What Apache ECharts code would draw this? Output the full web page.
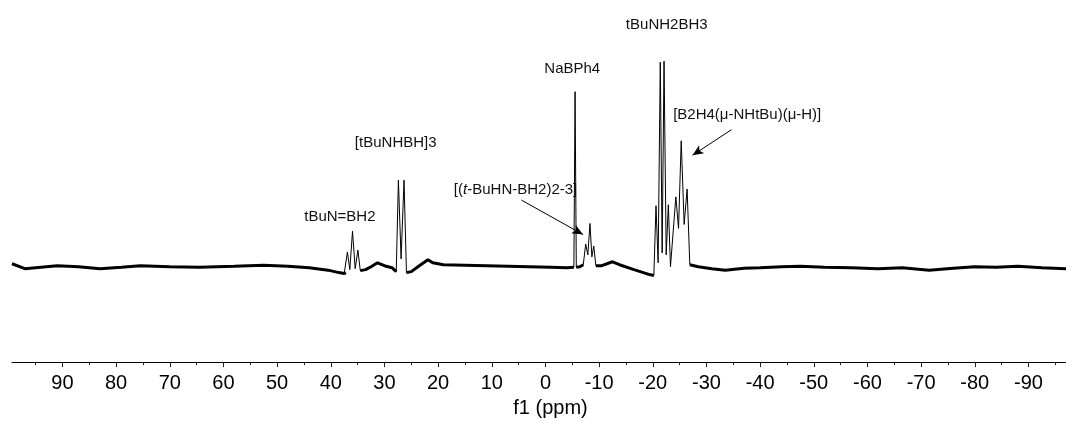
<!DOCTYPE html>
<html>
<head>
<meta charset="utf-8">
<script src="https://cdn.jsdelivr.net/npm/echarts@6/dist/echarts.min.js"></script>
<style>
html,body{margin:0;padding:0;background:#fff;}
#chart{width:1066px;height:423px;}
</style>
</head>
<body>
<div id="chart"></div>
<script>
// chemical shift (ppm), descending
const ppm = [
  99.4, 97.0, 94.0, 91.0, 87.0, 83.0, 79.0, 75.5, 70.0, 64.5,
  58.0, 52.5, 48.0, 44.0, 40.5, 38.5, 37.5, 37.2, 36.9, 36.45,
  35.95, 35.45, 34.95, 34.5, 33.5, 32.5, 31.3, 30.0, 28.6, 27.8,
  27.4, 26.9, 26.35, 25.9, 25.0, 23.5, 21.9, 21.0, 19.0, 15.0,
  11.0, 7.0, 3.0, -1.0, -4.0, -5.3, -5.52, -5.75, -6.4, -7.05,
  -7.5, -7.9, -8.3, -8.65, -9.0, -9.4, -10.5, -12.5, -13.8, -16.5,
  -19.4, -20.2, -20.6, -21.0, -21.4, -21.75, -22.1, -22.5, -22.9, -23.3,
  -24.3, -24.8, -25.3, -25.85, -26.4, -26.9, -28.5, -31.0, -33.5, -37.0,
  -40.0, -44.0, -47.5, -52.0, -57.0, -62.0, -66.5, -71.5, -76.0, -80.0,
  -84.0, -88.0, -92.5, -97.0
];
// signal intensity (arbitrary units, baseline ~ 0)
const intensity = [
  3, -2, -0.5, 1, 0, -2, -0.5, 1, 0, -0.5,
  0.5, 1.5, 0.5, -1, -3.5, -6, -7, -6, 15, -3,
  36, -2, 17, -4, -3, 0, 4, 1, -1, -5,
  88, 8, 88, -6, -5, 1, 7, 4, 2, 1.5,
  1, 0.5, 0, -0.5, -1, -0.5, 178, -0.5, 0, 2,
  23, 12, 44, 10, 21, 1, 1, 5, 2, -3,
  -8, -9, 62, 4, 208, 14, 209, 12, 63, 0,
  71, 39, 128, 43, 79, 2, 0, -2, -3.5, -1.5,
  -1, 0, 0.5, -0.5, -1, -2, -1, -3.5, -1.5, 0,
  -0.5, 0.5, -1, -2
];
const majorTicks = [90, 80, 70, 60, 50, 40, 30, 20, 10, 0, -10, -20, -30, -40, -50, -60, -70, -80, -90];
const minorTicks = [95, 85, 75, 65, 55, 45, 35, 25, 15, 5, -5, -15, -25, -35, -45, -55, -65, -75, -85, -95];

// peak annotations
const annotationTexts = ['tBuN=BH2', '[tBuNHBH]3', '[({it|t}-BuHN-BH2)2-3]', 'NaBPh4', 'tBuNH2BH3', '[B2H4(\u03bc-NHtBu)(\u03bc-H)]'];
const annotationPpm = [38.3, 27.9, 5.57, -5.0, -22.6, -37.6];
const annotationValue = [51, 126, 78, 201, 246, 154];

// arrows: start -> end (ppm, intensity)
const arrowStartPpm = [4.47, -34.67];
const arrowStartValue = [67.7, 139.3];
const arrowEndPpm = [-7.01, -27.4];
const arrowEndValue = [32.7, 113.3];

const AX_FONT = '"Liberation Sans", Arial, sans-serif';
const spectrum = ppm.map((p, i) => [p, intensity[i]]);
const baselineTrace = ppm.map((p, i) => intensity[i] > 9 ? [p, null] : [p, intensity[i]]);

const chart = echarts.init(document.getElementById('chart'), null, {renderer: 'canvas'});
chart.setOption({
  animation: false,
  backgroundColor: '#fff',
  grid: {left: 12, right: 0, top: 10, bottom: 55},
  xAxis: [{
    type: 'value', min: -97, max: 99.4, inverse: true, position: 'bottom',
    axisLine: {onZero: false, lineStyle: {color: '#000', width: 1}},
    axisTick: {customValues: majorTicks, length: 5, lineStyle: {color: '#222'}},
    axisLabel: {customValues: majorTicks, margin: 11, fontSize: 20, fontFamily: AX_FONT, color: '#000'},
    splitLine: {show: false},
    name: 'f1 (ppm)', nameLocation: 'middle', nameGap: 33,
    nameTextStyle: {fontSize: 20, fontFamily: AX_FONT, color: '#000', padding: [0, 0, 0, 23]}
  }, {
    type: 'value', min: -97, max: 99.4, inverse: true, position: 'bottom', gridIndex: 0,
    axisLine: {show: false, onZero: false},
    axisTick: {customValues: minorTicks, length: 3, lineStyle: {color: '#222'}},
    axisLabel: {show: false},
    splitLine: {show: false}
  }],
  yAxis: {type: 'value', min: -97, max: 261, show: false},
  series: [{
    type: 'line', data: baselineTrace, showSymbol: false, connectNulls: false, silent: true,
    lineStyle: {color: '#000', width: 3}, z: 2
  }, {
    type: 'line', data: spectrum, showSymbol: false, silent: true,
    lineStyle: {color: '#000', width: 1}, z: 3,
    markPoint: {
      symbol: 'rect', symbolSize: 1, silent: true,
      itemStyle: {color: 'transparent'},
      label: {
        show: true, position: 'inside', color: '#111', fontSize: 15, fontFamily: AX_FONT,
        rich: {it: {fontStyle: 'italic', fontSize: 15, fontFamily: AX_FONT, color: '#111'}}
      },
      data: annotationTexts.map((t, i) => ({
        coord: [annotationPpm[i], annotationValue[i]],
        label: {formatter: t}
      }))
    },
    markLine: {
      silent: true, symbol: ['none', 'arrow'], symbolSize: [7, 11],
      lineStyle: {color: '#000', width: 1, type: 'solid'},
      label: {show: false},
      data: arrowStartPpm.map((p, i) => [
        {coord: [p, arrowStartValue[i]]},
        {coord: [arrowEndPpm[i], arrowEndValue[i]]}
      ])
    }
  }]
});
</script>
</body>
</html>
